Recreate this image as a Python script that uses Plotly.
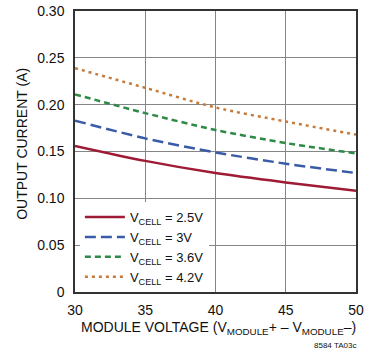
import plotly.graph_objects as go

# ---- data ----
module_voltage = [30, 35, 40, 45, 50]
i_vcell_2v5 = [0.156, 0.140, 0.127, 0.117, 0.108]
i_vcell_3v = [0.183, 0.164, 0.149, 0.137, 0.127]
i_vcell_3v6 = [0.211, 0.191, 0.173, 0.159, 0.148]
i_vcell_4v2 = [0.239, 0.218, 0.197, 0.182, 0.168]

series_names = [
    "V<sub>CELL</sub> = 2.5V",
    "V<sub>CELL</sub> = 3V",
    "V<sub>CELL</sub> = 3.6V",
    "V<sub>CELL</sub> = 4.2V",
]
x_tick_vals = [30, 35, 40, 45, 50]
x_tick_text = ["30", "35", "40", "45", "50"]
y_tick_vals = [0, 0.05, 0.10, 0.15, 0.20, 0.25, 0.30]
y_tick_text = ["0", "0.05", "0.10", "0.15", "0.20", "0.25", "0.30"]

FONT = "Liberation Sans, Arial, Helvetica, sans-serif"
TXT = "#111111"

styles = [
    dict(color="#9e1a35", width=2.5, dash="solid"),
    dict(color="#3a5ca8", width=2.5, dash="11px,5px"),
    dict(color="#2f8a48", width=2.5, dash="6px,4px"),
    dict(color="#c57b3c", width=2.5, dash="3px,4px"),
]

fig = go.Figure()
for name, ys, st in zip(series_names,
                        [i_vcell_2v5, i_vcell_3v, i_vcell_3v6, i_vcell_4v2],
                        styles):
    fig.add_trace(go.Scatter(
        x=module_voltage, y=ys, mode="lines", name=name,
        line=dict(color=st["color"], width=st["width"], dash=st["dash"],
                  shape="spline", smoothing=0.8),
    ))

axis_common = dict(
    showgrid=True, gridcolor="#858585", gridwidth=1,
    showline=True, mirror=True, linecolor="#333333", linewidth=1.5,
    zeroline=False, ticks="", automargin=False,
    tickfont=dict(family=FONT, size=14, color=TXT),
)

fig.update_layout(
    template="none",
    width=376, height=352, autosize=False,
    margin=dict(l=75, r=20, t=11, b=60, pad=0),
    paper_bgcolor="white", plot_bgcolor="white",
    font=dict(family=FONT, color=TXT),
    showlegend=True,
    legend=dict(
        x=0.0174, y=0.32, xanchor="left", yanchor="top",
        bgcolor="white", borderwidth=0,
        font=dict(family=FONT, size=13, color=TXT),
        itemwidth=40, tracegroupgap=0,
    ),
    xaxis=dict(range=[30, 50], tickvals=x_tick_vals, ticktext=x_tick_text,
               ticklabelstandoff=4, **axis_common),
    yaxis=dict(range=[0, 0.30], tickvals=y_tick_vals, ticktext=y_tick_text,
               ticklabelstandoff=6, **axis_common),
    annotations=[
        dict(text="OUTPUT CURRENT (A)", xref="paper", yref="paper",
             x=-0.189, y=0.527, xanchor="center", yanchor="middle",
             textangle=-90, showarrow=False,
             font=dict(family=FONT, size=14, color=TXT)),
        dict(text="MODULE VOLTAGE (V<sub>MODULE</sub>+ \u2013 V<sub>MODULE</sub>\u2013)",
             xref="paper", yref="paper", x=0.509, y=-0.128,
             xanchor="center", yanchor="middle", showarrow=False,
             font=dict(family=FONT, size=14, color=TXT)),
        dict(text="8584 TA03c", xref="paper", yref="paper",
             x=1.007, y=-0.189, xanchor="right", yanchor="middle",
             showarrow=False, font=dict(family=FONT, size=8, color=TXT)),
    ],
)

fig.write_html("out.html",
               config={"displayModeBar": False},
               post_script="document.body.style.margin='0';")
